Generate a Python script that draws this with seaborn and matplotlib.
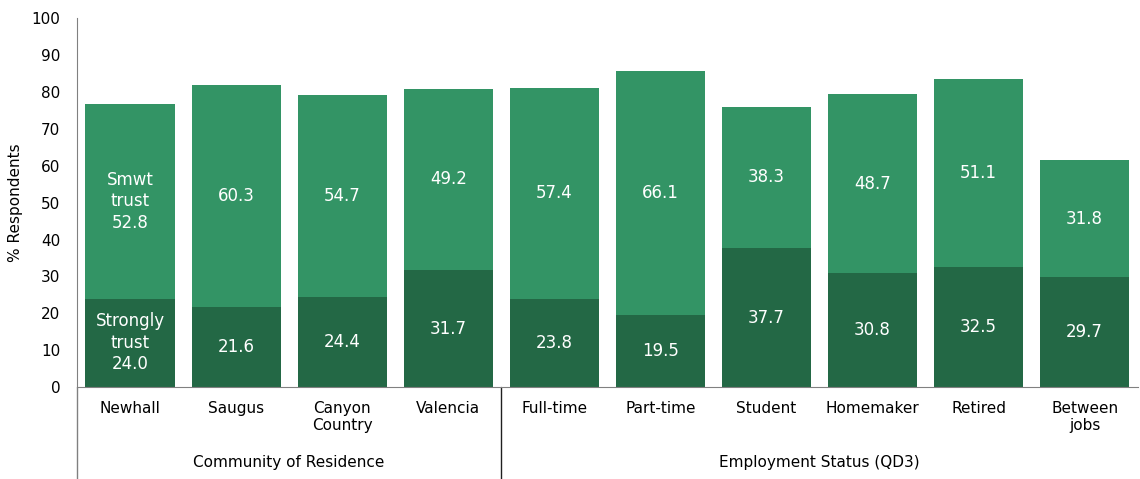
import pandas as pd
import seaborn as sns
from matplotlib import pyplot as plt

categories = ['Newhall', 'Saugus', 'Canyon\nCountry', 'Valencia', 'Full-time',
              'Part-time', 'Student', 'Homemaker', 'Retired', 'Between\njobs']
strongly_trust = [24.0, 21.6, 24.4, 31.7, 23.8, 19.5, 37.7, 30.8, 32.5, 29.7]
smwt_trust = [52.8, 60.3, 54.7, 49.2, 57.4, 66.1, 38.3, 48.7, 51.1, 31.8]
groups = ['Community of Residence', 'Employment Status (QD3)']
group_sizes = [4, 6]

df = pd.DataFrame({'cat': categories, 'strong': strongly_trust, 'smwt': smwt_trust})
df['total'] = df['strong'] + df['smwt']

sns.set_style('white')
plt.rcParams['font.family'] = ['DejaVu Sans']
plt.rcParams['text.color'] = 'black'
plt.rcParams['axes.labelcolor'] = 'black'
plt.rcParams['xtick.color'] = 'black'
plt.rcParams['ytick.color'] = 'black'

dark = '#236845'
light = '#339465'

fig = plt.figure(figsize=(11.4, 4.79), dpi=100)
ax = fig.add_axes([0.0675, 0.192, 0.9305, 0.770])

sns.barplot(data=df, x='cat', y='total', color=light, width=0.84, saturation=1,
            linewidth=0, ax=ax)
sns.barplot(data=df, x='cat', y='strong', color=dark, width=0.84, saturation=1,
            linewidth=0, ax=ax)

ax.set_xlim(-0.5, 9.5)
ax.set_ylim(0, 100)
ax.set_yticks(range(0, 101, 10))
ax.tick_params(axis='y', labelsize=11, length=0, pad=12)
ax.tick_params(axis='x', labelsize=11, length=0, pad=10)
ax.set_xlabel('')
ax.set_ylabel('% Respondents', fontsize=11, labelpad=6)

for s in ['top', 'right']:
    ax.spines[s].set_visible(False)
ax.spines['left'].set_color('#808080')
ax.spines['bottom'].set_color('#808080')
ax.spines['left'].set_bounds(0, 100)

# labels inside the bars
for i, (st, sm) in enumerate(zip(strongly_trust, smwt_trust)):
    lab_st = f'{st:.1f}'
    lab_sm = f'{sm:.1f}'
    if i == 0:
        lab_st = 'Strongly\ntrust\n' + lab_st
        lab_sm = 'Smwt\ntrust\n' + lab_sm
    ax.text(i, st / 2, lab_st, ha='center', va='center', color='white',
            fontsize=12, linespacing=1.25)
    ax.text(i, st + sm / 2, lab_sm, ha='center', va='center', color='white',
            fontsize=12, linespacing=1.25)

# group separators and labels
ax.plot([-0.5, -0.5], [0, -0.25], transform=ax.get_xaxis_transform(),
        color='#808080', lw=1, clip_on=False)
start = -0.5
for name, n in zip(groups, group_sizes):
    end = start + n
    ax.text((start + end) / 2, -0.205, name, transform=ax.get_xaxis_transform(),
            ha='center', va='center', fontsize=11)
    if end < 9.5:
        ax.plot([end, end], [0, -0.25], transform=ax.get_xaxis_transform(),
                color='#202020', lw=1, clip_on=False)
    start = end

fig.savefig('out.png', dpi=100)
